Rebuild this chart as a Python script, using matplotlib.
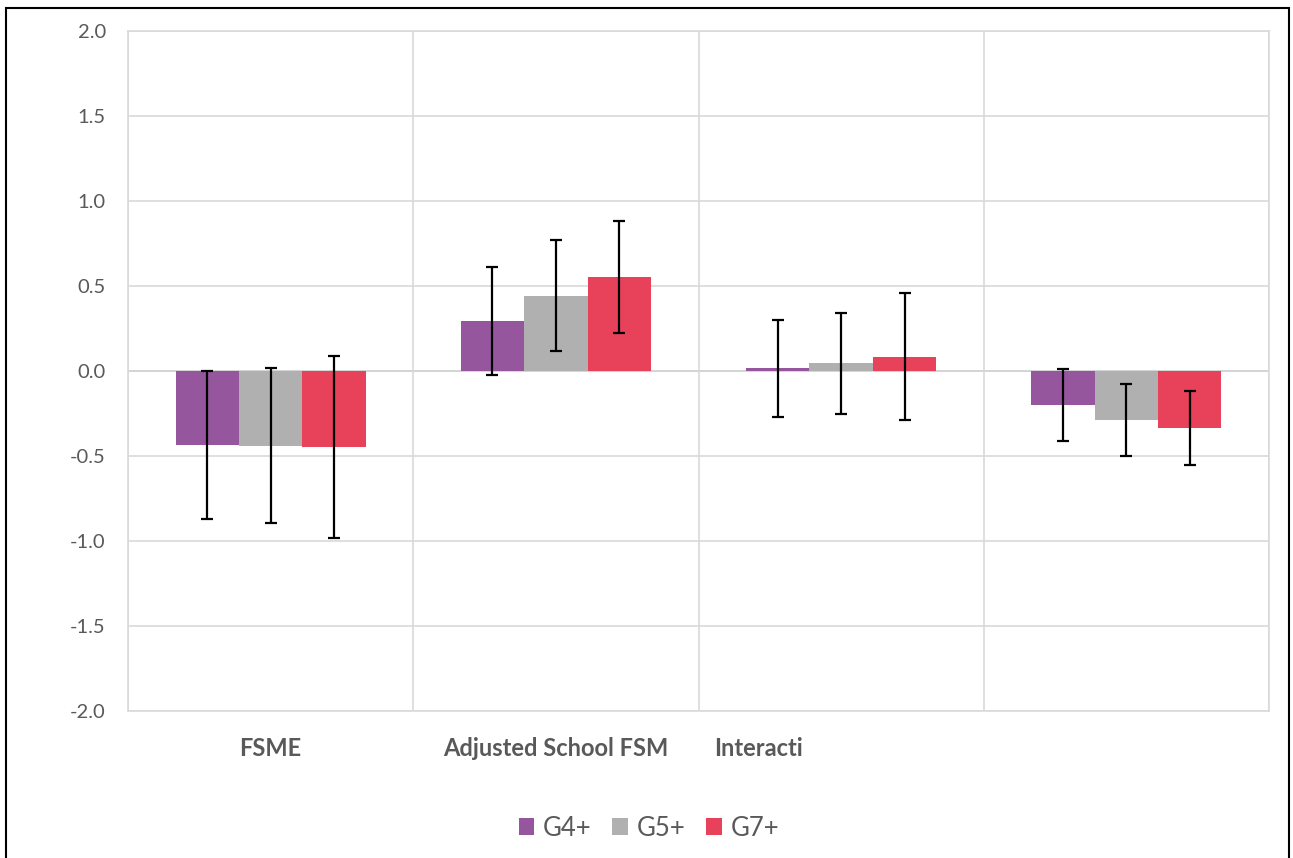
import numpy as np
import matplotlib.pyplot as plt
from matplotlib.patches import Rectangle

plt.rcParams['font.family'] = ['Lato', 'DejaVu Sans']

# data
categories = ['FSME', 'Adjusted School FSM', 'Interacti', '']
series = ['G4+', 'G5+', 'G7+']
g4 = [-0.435, 0.294, 0.016, -0.200]
g5 = [-0.440, 0.443, 0.045, -0.288]
g7 = [-0.447, 0.553, 0.085, -0.335]
g4_err = [0.436, 0.318, 0.284, 0.210]
g5_err = [0.455, 0.325, 0.295, 0.210]
g7_err = [0.536, 0.332, 0.372, 0.218]

colors = ['#96569E', '#B0B0B0', '#E8415A']
grid_col = '#D9D9D9'
text_col = '#595959'

fig = plt.figure(figsize=(12.93, 8.58), dpi=100)
ax = fig.add_axes([128 / 1293, 147 / 858, (1269 - 128) / 1293, (711 - 31) / 858])

x = np.arange(len(categories))
w = 1 / 4.5
vals = [g4, g5, g7]
errs = [g4_err, g5_err, g7_err]
for i, (v, e) in enumerate(zip(vals, errs)):
    pos = x + (i - 1) * w
    ax.bar(pos, v, width=w, color=colors[i], label=series[i], zorder=2)
    ax.errorbar(pos, v, yerr=e, fmt='none', ecolor='black', elinewidth=1.6,
                capsize=4, capthick=1.6, zorder=3)

ax.set_xlim(-0.5, 3.5)
ax.set_ylim(-2.0, 2.0)
ax.set_yticks(np.arange(-2.0, 2.01, 0.5))
ax.set_yticklabels([f'{t:.1f}' for t in np.arange(-2.0, 2.01, 0.5)])
ax.set_xticks(x)
ax.set_xticklabels(['FSME', 'Adjusted School FSM', '', ''], fontweight='bold',
                   fontsize=17)
# third label is cut short in the original, sits left of its slot
ax.text(1.71, -0.038, categories[2], transform=ax.get_xaxis_transform(),
        ha='center', va='top', fontsize=17, fontweight='bold', color=text_col)

ax.tick_params(axis='both', length=0, colors=text_col)
ax.tick_params(axis='y', labelsize=14.5, pad=16)
ax.tick_params(axis='x', pad=19)

ax.grid(axis='y', color=grid_col, lw=1.2, zorder=0)
for b in np.arange(-0.5, 3.6, 1):
    ax.axvline(b, color=grid_col, lw=1.2, zorder=0)
ax.axhline(0, color='#BFBFBF', lw=1.3, zorder=1)
for s in ax.spines.values():
    s.set_color(grid_col)
    s.set_linewidth(1.2)

fig.legend(loc='center', bbox_to_anchor=(649 / 1293, 1 - 828 / 858), ncol=3,
           frameon=False, fontsize=18.5, handlelength=0.6, handleheight=0.6,
           handletextpad=0.35, columnspacing=0.8, labelcolor=text_col)

fig.patches.append(Rectangle((5.5 / 1293, -0.05), (1288.5 - 5.5) / 1293, 0.05 + 1 - 7.5 / 858,
                             transform=fig.transFigure, fill=False, ec='black', lw=1.5))

fig.savefig('out.png', dpi=100)
